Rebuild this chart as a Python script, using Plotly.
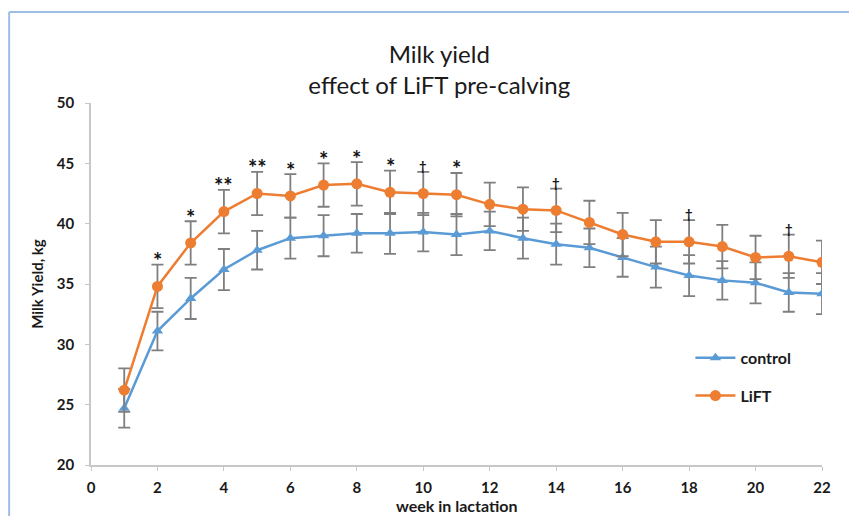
import plotly.graph_objects as go

weeks = list(range(1, 23))
control = [24.7, 31.1, 33.8, 36.2, 37.8, 38.8, 39.0, 39.2, 39.2, 39.3, 39.1, 39.4,
           38.8, 38.3, 38.0, 37.2, 36.4, 35.7, 35.3, 35.1, 34.3, 34.2]
control_err = [1.6, 1.6, 1.7, 1.7, 1.6, 1.7, 1.7, 1.6, 1.7, 1.6, 1.7, 1.6,
               1.7, 1.7, 1.6, 1.6, 1.7, 1.7, 1.6, 1.7, 1.6, 1.7]
lift = [26.2, 34.8, 38.4, 41.0, 42.5, 42.3, 43.2, 43.3, 42.6, 42.5, 42.4, 41.6,
        41.2, 41.1, 40.1, 39.1, 38.5, 38.5, 38.1, 37.2, 37.3, 36.8]
lift_err = [1.8, 1.8, 1.8, 1.8, 1.8, 1.8, 1.8, 1.8, 1.8, 1.8, 1.8, 1.8,
            1.8, 1.8, 1.8, 1.8, 1.8, 1.8, 1.8, 1.8, 1.8, 1.8]
sig = ["", "*", "*", "**", "**", "*", "*", "*", "*", "†", "*", "",
       "", "†", "", "", "", "†", "", "", "†", ""]

BLUE = "#5B9BD5"
ORANGE = "#ED7D31"
FONT = "Lato"
DARK = "#1a1a1a"

fig = go.Figure()
fig.add_trace(go.Scatter(
    x=weeks, y=control, name="control", mode="lines+markers",
    line=dict(color=BLUE, width=2.5),
    marker=dict(symbol="triangle-up", size=10, color=BLUE),
    error_y=dict(type="data", array=control_err, color="#7f7f7f", thickness=1.8, width=6),
    legendgroup="c",
))
fig.add_trace(go.Scatter(
    x=weeks, y=lift, name="LiFT", mode="lines+markers",
    line=dict(color=ORANGE, width=2.5),
    marker=dict(symbol="circle", size=11, color=ORANGE),
    error_y=dict(type="data", array=lift_err, color="#7f7f7f", thickness=1.8, width=6),
    legendgroup="l",
))

# significance marks above LiFT error bars
for w, v, e, s in zip(weeks, lift, lift_err, sig):
    if not s:
        continue
    is_star = s.startswith("*")
    fig.add_annotation(
        x=w, y=v + e, text=s, showarrow=False, yanchor="middle",
        yshift=4 if is_star else 6,
        font=dict(family=FONT, size=22 if is_star else 13, color="#111", weight="bold"),
    )

# x-axis title placed just under the tick labels
fig.add_annotation(
    x=0.5, y=-0.111, xref="paper", yref="paper", text="week in lactation",
    showarrow=False, yanchor="middle", xanchor="center",
    font=dict(family=FONT, size=16, color=DARK, weight="bold"),
)

axis_common = dict(showline=True, linecolor="#c8c8c8", linewidth=1.5, ticks="outside",
                   tickcolor="#c8c8c8", ticklen=4, showgrid=False, zeroline=False,
                   automargin=False,
                   tickfont=dict(family=FONT, size=15, color=DARK, weight="bold"))

fig.update_layout(
    width=849, height=508,
    margin=dict(l=83, r=35, t=95, b=51),
    paper_bgcolor="white", plot_bgcolor="white",
    title=dict(text="Milk yield<br>effect of LiFT pre-calving", x=0.508, xanchor="center",
               y=0.892, yanchor="middle",
               font=dict(family=FONT, size=24, color=DARK)),
    xaxis=dict(range=[0, 22], dtick=2, tick0=0, ticklabelstandoff=4, **axis_common),
    yaxis=dict(range=[20, 50], dtick=5, ticklabelstandoff=8,
               title=dict(text="Milk Yield, kg", standoff=10,
                          font=dict(family=FONT, size=15, color=DARK, weight="bold")),
               **axis_common),
    legend=dict(x=0.82, y=0.343, xanchor="left", yanchor="top",
                font=dict(family=FONT, size=16, color=DARK, weight="bold"),
                tracegroupgap=14, traceorder="grouped", bgcolor="rgba(0,0,0,0)",
                itemwidth=40),
    showlegend=True,
    shapes=[
        dict(type="line", xref="paper", yref="paper", x0=-0.112, x1=1.06, y0=1.2514, y1=1.2514,
             line=dict(color="#9dbde6", width=2)),
        dict(type="line", xref="paper", yref="paper", x0=-0.112, x1=-0.112, y0=1.2514, y1=-0.2,
             line=dict(color="#9dbde6", width=2)),
    ],
)

fig.write_html("out.html")
